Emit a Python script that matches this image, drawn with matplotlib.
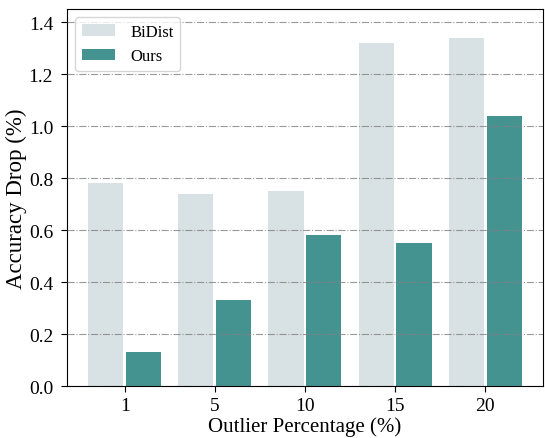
import numpy as np
import matplotlib
matplotlib.use("Agg")
import matplotlib.pyplot as plt

plt.rcParams["font.family"] = ["Liberation Serif", "DejaVu Serif"]

# accuracy drop per outlier rate
outlier_pct = ["1", "5", "10", "15", "20"]
bidist = [0.78, 0.74, 0.75, 1.32, 1.34]
ours = [0.13, 0.33, 0.58, 0.55, 1.04]

x = np.arange(len(outlier_pct))
w, off = 0.39, 0.21

fig = plt.figure(figsize=(5.45, 4.39), dpi=100)
ax = fig.add_axes([0.123, 0.118, 0.873, 0.859])
ax.bar(x - off, bidist, w, color="#d8e1e3", label="BiDist", zorder=2)
ax.bar(x + off, ours, w, color="#459391", label="Ours", zorder=2)

ax.set_xlim(-0.64, 4.64)
ax.set_ylim(0, 1.45)
ax.set_yticks(np.arange(0, 1.41, 0.2))
ax.set_xticks(x, outlier_pct)
ax.tick_params(labelsize=14, length=4)
ax.tick_params(axis="y", pad=6)
ax.yaxis.grid(True, linestyle="-.", color="gray", alpha=0.8, lw=0.8, zorder=3)
ax.set_axisbelow(False)
ax.set_xlabel("Outlier Percentage (%)", fontsize=15, labelpad=2)
ax.set_ylabel("Accuracy Drop (%)", fontsize=16.5, labelpad=1)
ax.legend(loc="upper left", fontsize=12, handlelength=2.0, handletextpad=0.9)

fig.savefig("out.png", dpi=100)
